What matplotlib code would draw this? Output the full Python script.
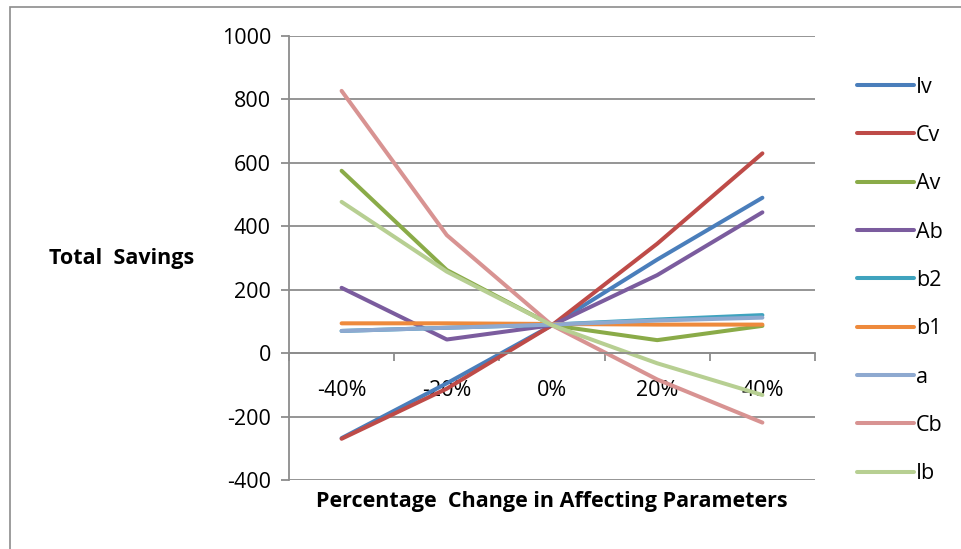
"""
Sensitivity chart: total savings vs. percentage change in affecting parameters
"""
import matplotlib
matplotlib.use("Agg")
import matplotlib.pyplot as plt
from matplotlib.patches import Rectangle

plt.rcParams["font.family"] = ["Open Sans", "DejaVu Sans"]
plt.rcParams["axes.unicode_minus"] = False

# categories on the x axis
changes = ["-40%", "-20%", "0%", "20%", "40%"]

# series values
Iv = [-268, -95, 88, 295, 490]
Cv = [-270, -112, 88, 345, 630]
Av = [575, 262, 88, 41, 86]
Ab = [206, 43, 88, 246, 444]
b2 = [70, 80, 90, 106, 120]
b1 = [94, 94, 92, 90, 90]
a = [70, 80, 90, 103, 112]
Cb = [827, 372, 88, -83, -219]
Ib = [477, 257, 88, -32, -132]

series_names = ["Iv", "Cv", "Av", "Ab", "b2", "b1", "a", "Cb", "Ib"]
series_values = [Iv, Cv, Av, Ab, b2, b1, a, Cb, Ib]
series_colors = ["#4A7EBB", "#BE4B48", "#8AAB48", "#7B5C9E", "#3FA3BE",
                 "#EE8A3C", "#8EA9D0", "#D89392", "#B7CF92"]

W, H = 962, 549
FS = 15.5
fig = plt.figure(figsize=(W / 100, H / 100), dpi=100)
ax = fig.add_axes([289 / W, 1 - 480 / H, (815 - 289) / W, (480 - 36) / H])

x = list(range(len(changes)))
for name, vals, col in zip(series_names, series_values, series_colors):
    ax.plot(x, vals, color=col, lw=2.9, solid_capstyle="round",
            solid_joinstyle="round", label=name)

ax.set_xlim(-0.5, len(changes) - 0.5)
ax.set_ylim(-400, 1000)
ax.set_yticks(range(-400, 1001, 200))
ax.yaxis.grid(True, color="#8C8C8C", lw=1.3)
ax.set_axisbelow(True)

# category axis crosses at 0, ticks between categories
for s in ["top", "right"]:
    ax.spines[s].set_visible(False)
ax.spines["bottom"].set_position(("data", 0))
ax.spines["bottom"].set_color("#8C8C8C")
ax.spines["bottom"].set_linewidth(1.3)
ax.spines["left"].set_color("#8C8C8C")
ax.spines["left"].set_linewidth(1.3)
ax.set_xticks([i - 0.5 for i in range(len(changes) + 1)])
ax.set_xticklabels([])
ax.set_xticks(x, minor=True)
ax.set_xticklabels(changes, minor=True)
ax.tick_params(axis="x", which="major", direction="out", length=6,
               color="#8C8C8C", width=1.3)
ax.tick_params(axis="x", which="minor", length=0, pad=19, labelsize=FS)
ax.tick_params(axis="y", direction="out", length=6, color="#8C8C8C",
               width=1.3, labelsize=FS, pad=7)

fig.text(122 / W, 1 - 258 / H, "Total  Savings", ha="center", va="center",
         fontsize=FS, fontweight="bold")
fig.text(552 / W, 1 - 502 / H, "Percentage  Change in Affecting Parameters",
         ha="center", va="center", fontsize=FS, fontweight="bold")

ax.legend(loc="upper left", bbox_to_anchor=(848 / W, 1 - 68 / H),
          bbox_transform=fig.transFigure, frameon=False, fontsize=FS,
          handlelength=2.65, handletextpad=0.1, labelspacing=1.27,
          borderaxespad=0)

# outer chart frame (right and bottom edges fall outside the picture)
fig.patches.append(Rectangle((10 / W, -0.05), 1.1, 1 - 7 / H + 0.05,
                             transform=fig.transFigure, fill=False,
                             edgecolor="#8C8C8C", lw=1.2))

fig.savefig("out.png", dpi=100)
